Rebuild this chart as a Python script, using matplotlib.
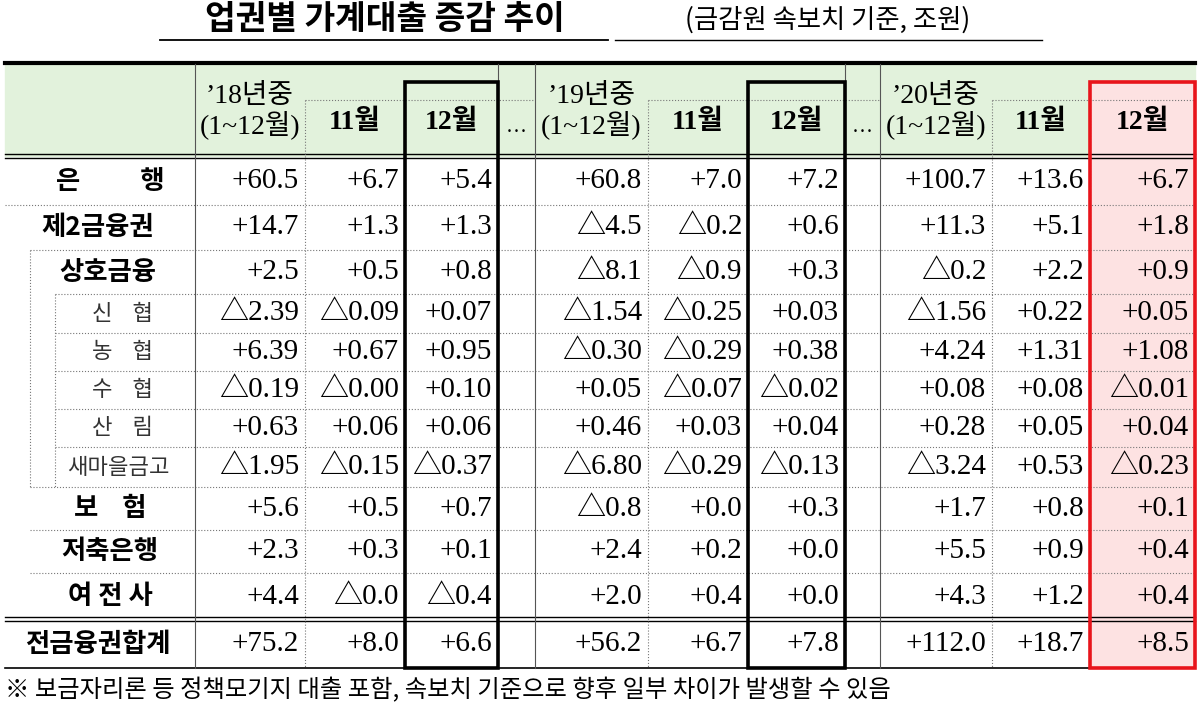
import matplotlib.pyplot as plt
from matplotlib.patches import Rectangle

KR = ['Noto Sans CJK KR', 'DejaVu Sans']
NUM = ['Liberation Serif', 'Noto Sans CJK KR']

title = "업권별 가계대출 증감 추이"
subtitle = "(금감원 속보치 기준, 조원)"
footnote = "※ 보금자리론 등 정책모기지 대출 포함, 속보치 기준으로 향후 일부 차이가 발생할 수 있음"

row_labels = ["은          행", "제2금융권", "상호금융", "신    협", "농    협", "수    협",
              "산    림", "새마을금고", "보    험", "저축은행", "여 전 사", "전금융권합계"]
label_x = [110, 98, 108, 122, 122, 122, 122, 118, 110, 110, 110, 98]
head_year = ["’18년중\n(1~12월)", "11월", "12월", "’19년중\n(1~12월)", "11월", "12월",
             "’20년중\n(1~12월)", "11월", "12월"]
y2018 = [["+60.5", "+6.7", "+5.4"], ["+14.7", "+1.3", "+1.3"], ["+2.5", "+0.5", "+0.8"],
         ["△2.39", "△0.09", "+0.07"], ["+6.39", "+0.67", "+0.95"], ["△0.19", "△0.00", "+0.10"],
         ["+0.63", "+0.06", "+0.06"], ["△1.95", "△0.15", "△0.37"], ["+5.6", "+0.5", "+0.7"],
         ["+2.3", "+0.3", "+0.1"], ["+4.4", "△0.0", "△0.4"], ["+75.2", "+8.0", "+6.6"]]
y2019 = [["+60.8", "+7.0", "+7.2"], ["△4.5", "△0.2", "+0.6"], ["△8.1", "△0.9", "+0.3"],
         ["△1.54", "△0.25", "+0.03"], ["△0.30", "△0.29", "+0.38"], ["+0.05", "△0.07", "△0.02"],
         ["+0.46", "+0.03", "+0.04"], ["△6.80", "△0.29", "△0.13"], ["△0.8", "+0.0", "+0.3"],
         ["+2.4", "+0.2", "+0.0"], ["+2.0", "+0.4", "+0.0"], ["+56.2", "+6.7", "+7.8"]]
y2020 = [["+100.7", "+13.6", "+6.7"], ["+11.3", "+5.1", "+1.8"], ["△0.2", "+2.2", "+0.9"],
         ["△1.56", "+0.22", "+0.05"], ["+4.24", "+1.31", "+1.08"], ["+0.08", "+0.08", "△0.01"],
         ["+0.28", "+0.05", "+0.04"], ["△3.24", "+0.53", "△0.23"], ["+1.7", "+0.8", "+0.1"],
         ["+5.5", "+0.9", "+0.4"], ["+4.3", "+1.2", "+0.4"], ["+112.0", "+18.7", "+8.5"]]

# layout in pixels
col_edges = [195, 305, 405, 498, 535, 648, 748, 845, 880, 992, 1090, 1195]
data_cols = [(195, 305), (305, 405), (405, 498), (535, 648), (648, 748), (748, 845),
             (880, 992), (992, 1090), (1090, 1195)]
row_edges = [158, 205, 250, 294, 333, 371, 409, 447, 487, 530, 573, 620, 668]
row_indent = [5, 5, 30, 55, 55, 55, 55, 55, 30, 30, 30, 5]

fig = plt.figure(figsize=(11.99, 7.03), dpi=100)
ax = fig.add_axes([0, 0, 1, 1])
ax.set_xlim(0, 1199)
ax.set_ylim(703, 0)
ax.axis('off')

ax.text(385, 20, title, family=KR, fontsize=24, fontweight='bold', ha='center', va='center')
ax.plot([160, 608], [40, 40], color='black', lw=1.3)
ax.text(828, 20, subtitle, family=KR, fontsize=19, ha='center', va='center')
ax.plot([615, 1042], [40, 40], color='black', lw=1)

# header fill
ax.add_patch(Rectangle((5, 64), 1190, 92, color='#e2f2dc', zorder=0))
ax.add_patch(Rectangle((1090, 82), 105, 586, color='#fde2e2', zorder=0))

ax.plot([5, 1195], [63, 63], color='black', lw=3)
ax.plot([5, 1195], [154, 154], color='black', lw=1)
ax.plot([5, 1195], [158, 158], color='black', lw=1)
ax.plot([5, 1195], [617, 617], color='black', lw=1)
ax.plot([5, 1195], [621, 621], color='black', lw=1)
ax.plot([5, 1195], [668, 668], color='black', lw=1.2)
for ye, ind in zip(row_edges[1:-2], row_indent[1:-1]):
    ax.plot([ind, 1195], [ye, ye], color='#777777', lw=0.8, ls=':')
ax.plot([30, 30], [250, 487], color='#777777', lw=0.8, ls=':')
ax.plot([55, 55], [294, 487], color='#777777', lw=0.8, ls=':')
ax.plot([305, 535], [100, 100], color='#777777', lw=0.8, ls=':')
ax.plot([648, 880], [100, 100], color='#777777', lw=0.8, ls=':')
ax.plot([992, 1195], [100, 100], color='#777777', lw=0.8, ls=':')
for xe in col_edges[:-1]:
    solid = xe in (195, 498, 535, 845, 880)
    ax.plot([xe, xe], [64 if solid else 100, 668], color='#555555' if solid else '#777777',
            lw=0.8, ls='-' if solid else ':')

# highlight boxes
for x0, x1, c in [(405, 498, 'black'), (748, 845, 'black'), (1090, 1195, '#e8141b')]:
    ax.add_patch(Rectangle((x0, 82), x1 - x0, 586, fill=False, ec=c, lw=2.6, zorder=5))

for (x0, x1), h in zip(data_cols, head_year):
    two = "\n" in h
    ax.text((x0 + x1) / 2, 112 if two else 122, h, family=NUM, fontsize=20,
            fontweight='normal' if two else 'bold', ha='center', va='center',
            linespacing=1.05)
for gx in (516, 862):
    ax.text(gx, 128, "…", family=NUM, fontsize=15, ha='center', va='center')

for i, lab in enumerate(row_labels):
    yc = (row_edges[i] + row_edges[i + 1]) / 2
    sub = 3 <= i <= 7
    ax.text(label_x[i], yc, lab, family=KR, fontsize=16 if sub else 19,
            fontweight='normal' if sub else 'bold', ha='center', va='center',
            color='#333333' if sub else 'black')
    vals = y2018[i] + y2019[i] + y2020[i]
    for (x0, x1), v in zip(data_cols, vals):
        ax.text(x1 - 6, yc, v, family=NUM, fontsize=21, ha='right', va='center', zorder=6)

ax.text(5, 690, footnote, family=KR, fontsize=17.5, ha='left', va='center')

fig.savefig('out.png', dpi=100)
